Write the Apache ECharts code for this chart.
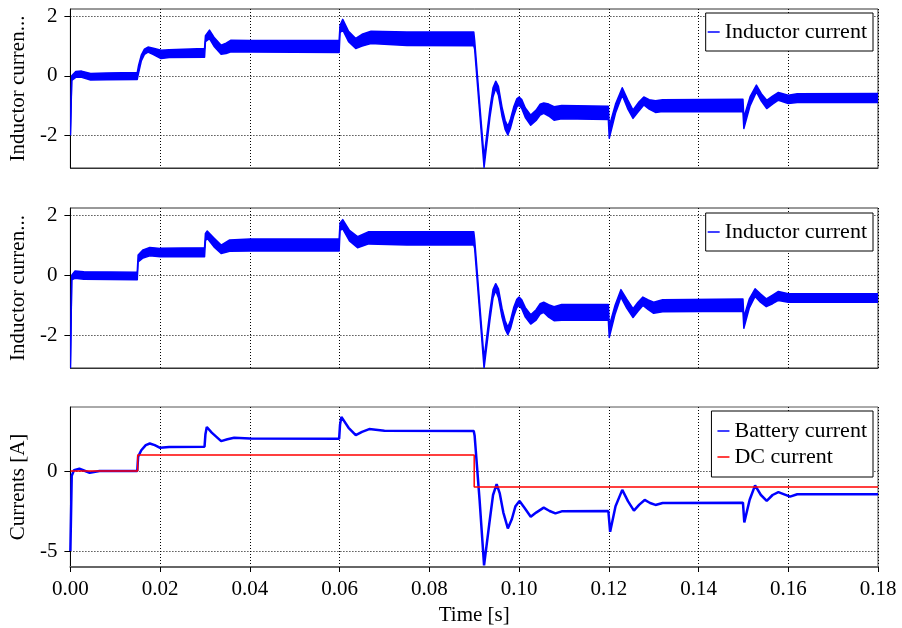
<!DOCTYPE html>
<html>
<head>
<meta charset="utf-8">
<script src="https://cdn.jsdelivr.net/npm/echarts@6/dist/echarts.min.js"></script>
<style>
html, body { margin: 0; padding: 0; background: #fff; }
#chart { width: 902px; height: 628px; }
</style>
</head>
<body>
<div id="chart"></div>
<script>
// panel 1: inductor current ripple band (lower / upper envelope)
var t1 = [0, 0.0003, 0.0012, 0.0025, 0.0045, 0.008, 0.0149, 0.0152, 0.0158, 0.0165, 0.0173, 0.0185, 0.0202, 0.022, 0.0299,
  0.0301, 0.031, 0.032, 0.0336, 0.0347, 0.0358, 0.04, 0.0599, 0.0601, 0.0607, 0.062, 0.0636, 0.065, 0.067, 0.075, 0.0899,
  0.0901, 0.0912, 0.0922, 0.0935, 0.0942, 0.0948, 0.0954, 0.0962, 0.0969, 0.0975, 0.0981, 0.0988, 0.0995, 0.1, 0.1006,
  0.1014, 0.1026, 0.1038, 0.1047, 0.1055, 0.1066, 0.1078, 0.1095, 0.1199, 0.1201, 0.1215, 0.123, 0.1242, 0.1254, 0.1266,
  0.1278, 0.129, 0.1304, 0.132, 0.1499, 0.1501, 0.1515, 0.1529, 0.154, 0.1552, 0.1565, 0.1578, 0.16, 0.162, 0.18];
var lo1 = [-2.0, -0.15, -0.05, -0.05, -0.14, -0.13, -0.12, 0.1, 0.5, 0.72, 0.8, 0.72, 0.58, 0.62, 0.63,
  1.15, 1.25, 1.0, 0.73, 0.75, 0.81, 0.8, 0.79, 1.45, 1.55, 1.15, 0.92, 1.0, 1.09, 1.02, 1.01,
  0.9, -1.2, -3.08, -1.4, -0.7, -0.42, -0.65, -1.35, -1.8, -1.99, -1.75, -1.35, -1.05, -0.98, -1.1,
  -1.4, -1.66, -1.5, -1.32, -1.26, -1.35, -1.49, -1.44, -1.47, -2.1, -1.25, -0.65, -1.1, -1.43, -1.2,
  -0.98, -1.12, -1.23, -1.2, -1.21, -1.77, -1.0, -0.54, -0.85, -1.1, -0.95, -0.82, -0.93, -0.9, -0.9];
var hi1 = [-2.0, 0.0, 0.15, 0.16, 0.08, 0.1, 0.11, 0.35, 0.7, 0.9, 0.97, 0.93, 0.86, 0.88, 0.92,
  1.35, 1.54, 1.3, 1.03, 1.1, 1.2, 1.19, 1.2, 1.7, 1.9, 1.5, 1.26, 1.4, 1.5, 1.48, 1.48,
  1.2, -0.9, -2.75, -1.1, -0.4, -0.18, -0.35, -1.05, -1.5, -1.7, -1.45, -1.05, -0.77, -0.71, -0.8,
  -1.08, -1.32, -1.15, -0.95, -0.91, -0.95, -1.04, -1.0, -1.02, -1.7, -0.95, -0.4, -0.8, -1.15, -0.9,
  -0.71, -0.8, -0.84, -0.8, -0.79, -1.4, -0.7, -0.31, -0.6, -0.82, -0.68, -0.56, -0.65, -0.6, -0.59];

// panel 2
var t2 = [0, 0.0003, 0.001, 0.003, 0.0149, 0.0151, 0.0162, 0.0177, 0.02, 0.0299,
  0.0301, 0.0305, 0.032, 0.0336, 0.0355, 0.04, 0.0599, 0.0601, 0.0607, 0.0622, 0.064, 0.0665, 0.075, 0.0899,
  0.0901, 0.0912, 0.0922, 0.0935, 0.0942, 0.0948, 0.0954, 0.0962, 0.0969, 0.0975, 0.0981, 0.0988, 0.0995, 0.1, 0.1006,
  0.1014, 0.1026, 0.1038, 0.1047, 0.1055, 0.1066, 0.1078, 0.1095, 0.1199, 0.1201, 0.1214, 0.1227, 0.124, 0.1254, 0.1265,
  0.1276, 0.1288, 0.13, 0.132, 0.1499, 0.1501, 0.1513, 0.1526, 0.1538, 0.1551, 0.1565, 0.1578, 0.16, 0.18];
var lo2 = [-3.1, -0.15, -0.1, -0.13, -0.15, 0.45, 0.58, 0.65, 0.62, 0.62,
  1.15, 1.24, 0.95, 0.73, 0.8, 0.81, 0.81, 1.5, 1.55, 1.15, 0.92, 1.05, 1.01, 1.01,
  0.9, -1.2, -3.1, -1.5, -0.75, -0.51, -0.75, -1.4, -1.8, -1.99, -1.78, -1.38, -1.08, -1.01, -1.12,
  -1.4, -1.63, -1.5, -1.3, -1.24, -1.4, -1.52, -1.5, -1.5, -2.08, -1.3, -0.73, -1.1, -1.41, -1.2,
  -1.01, -1.15, -1.27, -1.22, -1.2, -1.77, -1.1, -0.71, -0.9, -1.05, -0.95, -0.84, -0.9, -0.9];
var hi2 = [-3.1, 0.0, 0.14, 0.12, 0.1, 0.68, 0.85, 0.93, 0.9, 0.92,
  1.4, 1.48, 1.25, 1.01, 1.18, 1.21, 1.21, 1.75, 1.86, 1.5, 1.29, 1.46, 1.46, 1.46,
  1.2, -0.9, -2.8, -1.2, -0.48, -0.28, -0.45, -1.1, -1.52, -1.74, -1.5, -1.08, -0.8, -0.73, -0.82,
  -1.08, -1.32, -1.15, -0.95, -0.9, -0.98, -1.05, -0.98, -0.98, -1.7, -1.0, -0.48, -0.8, -1.12, -0.9,
  -0.73, -0.82, -0.9, -0.82, -0.79, -1.4, -0.8, -0.45, -0.62, -0.79, -0.66, -0.54, -0.62, -0.62];

// panel 3: battery and dc current
var tBat = [0, 0.0003, 0.0008, 0.002, 0.0043, 0.0065, 0.0149, 0.0151, 0.0158, 0.0168, 0.0177, 0.0188, 0.02, 0.022, 0.0299,
  0.0301, 0.0304, 0.0315, 0.0336, 0.035, 0.0365, 0.04, 0.0599, 0.0601, 0.0604, 0.062, 0.0636, 0.065, 0.0666, 0.07, 0.0899,
  0.0901, 0.0912, 0.0922, 0.0935, 0.0942, 0.095, 0.0957, 0.0965, 0.0975, 0.0984, 0.0992, 0.1001, 0.1012, 0.1026, 0.1038,
  0.1055, 0.1068, 0.1081, 0.1095, 0.1199, 0.1203, 0.1215, 0.123, 0.1243, 0.1256, 0.1268, 0.128, 0.1292, 0.1304, 0.132, 0.1499,
  0.1502, 0.1514, 0.1526, 0.1539, 0.1552, 0.1565, 0.1578, 0.1604, 0.162, 0.18];
var bat = [-5.0, -0.3, 0.05, 0.14, -0.11, 0.0, 0.0, 0.9, 1.3, 1.62, 1.72, 1.62, 1.45, 1.5, 1.52,
  2.3, 2.75, 2.4, 1.87, 1.98, 2.08, 2.03, 2.02, 2.9, 3.38, 2.7, 2.24, 2.45, 2.62, 2.52, 2.5,
  2.2, -1.8, -5.9, -3.0, -1.5, -0.82, -1.4, -2.6, -3.59, -3.0, -2.2, -1.87, -2.3, -2.86, -2.6,
  -2.29, -2.5, -2.65, -2.52, -2.5, -3.8, -2.2, -1.18, -1.9, -2.48, -2.1, -1.81, -2.0, -2.12, -2.0, -1.98,
  -3.21, -1.8, -0.9, -1.5, -1.87, -1.5, -1.32, -1.6, -1.45, -1.45];
var tDc = [0, 0.015, 0.015, 0.09, 0.09, 0.18];
var dc = [0, 0, 1, 1, -1, -1];

var yTicksInd = [-2, 0, 2];
var yTicksCur = [-5, 0];

function pairs(t, v) {
  return t.map(function (x, i) { return [x, v[i]]; });
}

var font = 'Liberation Serif';
var blue = '#0000ff';

function makeX(i, showLabel) {
  return {
    type: 'value', gridIndex: i, min: 0, max: 0.18, interval: 0.02,
    name: showLabel ? 'Time [s]' : '', nameLocation: 'middle', nameGap: 38,
    nameTextStyle: { fontFamily: font, fontSize: 21, color: '#000' },
    axisLine: { show: true, onZero: false, lineStyle: { color: showLabel ? '#666' : '#333', width: showLabel ? 2 : 1 } },
    axisTick: { show: showLabel, length: 5, lineStyle: { color: '#000' } },
    axisLabel: {
      show: showLabel, margin: 12, fontFamily: font, fontSize: 21, color: '#000',
      formatter: function (v) { return v.toFixed(2); }
    },
    splitLine: { show: true, lineStyle: { color: '#000', type: [1, 2], width: 1 } }
  };
}
function makeY(i, min, max, ticks, name) {
  return {
    type: 'value', gridIndex: i, min: min, max: max,
    name: name, nameLocation: 'middle', nameGap: 34,
    nameTextStyle: { fontFamily: font, fontSize: 21, color: '#000' },
    axisLine: { show: true, lineStyle: { color: '#000' } },
    axisTick: { show: true, length: 6, customValues: ticks, lineStyle: { color: '#000' } },
    axisLabel: { margin: 13, fontFamily: font, fontSize: 21, color: '#000', customValues: ticks },
    splitLine: { show: true, customValues: ticks, lineStyle: { color: '#000', type: [1, 2], width: 1 } }
  };
}
// ripple band: polygon between the lower and upper envelope, edges stroked
function bandSeries(i, t, lo, hi) {
  return {
    name: 'Inductor current', type: 'custom', xAxisIndex: i, yAxisIndex: i,
    clip: true, itemStyle: { color: blue },
    data: t.map(function (x, k) { return [x, lo[k], hi[k]]; }),
    renderItem: function (params, api) {
      if (params.dataIndex !== 0) return;
      var up = t.map(function (x, k) { return api.coord([x, hi[k]]); });
      var dn = t.map(function (x, k) { return api.coord([x, lo[k]]); });
      var poly = up.concat(dn.slice().reverse());
      var st = { fill: 'none', stroke: blue, lineWidth: 1.5, lineJoin: 'round' };
      return {
        type: 'group',
        children: [
          { type: 'polygon', shape: { points: poly }, style: { fill: blue, stroke: 'none' } },
          { type: 'polyline', shape: { points: up }, style: st },
          { type: 'polyline', shape: { points: dn }, style: st }
        ]
      };
    }
  };
}
function makeLegend(top, names, pad) {
  return {
    data: names, right: 29, top: top, orient: 'vertical',
    icon: 'rect', itemWidth: 12, itemHeight: 1.5, itemGap: 4,
    padding: pad, borderColor: '#000', borderWidth: 1, borderRadius: 0,
    backgroundColor: '#fff',
    textStyle: { fontFamily: font, fontSize: 22, color: '#000' },
    selectedMode: false
  };
}

var chart = echarts.init(document.getElementById('chart'));
var option = {
  animation: false,
  backgroundColor: '#fff',
  textStyle: { fontFamily: font },
  grid: [
    { left: 69, right: 24, top: 9, height: 159, show: true, borderColor: '#333', borderWidth: 1 },
    { left: 69, right: 24, top: 208, height: 160, show: true, borderColor: '#333', borderWidth: 1 },
    { left: 69, right: 24, top: 407, height: 160, show: true, borderColor: '#555', borderWidth: 1 }
  ],
  legend: [
    makeLegend(13, ['Inductor current'], [8, 6, 8, 2]),
    makeLegend(213, ['Inductor current'], [8, 6, 8, 2]),
    makeLegend(411, ['Battery current', 'DC current'], [9, 6, 9, 6])
  ],
  xAxis: [makeX(0, false), makeX(1, false), makeX(2, true)],
  yAxis: [
    makeY(0, -3.1, 2.25, yTicksInd, 'Inductor curren...'),
    makeY(1, -3.1, 2.25, yTicksInd, 'Inductor curren...'),
    makeY(2, -6, 4, yTicksCur, 'Currents [A]')
  ],
  series: [
    bandSeries(0, t1, lo1, hi1),
    bandSeries(1, t2, lo2, hi2),
    {
      name: 'Battery current', type: 'line', xAxisIndex: 2, yAxisIndex: 2,
      showSymbol: false, color: blue, lineStyle: { color: blue, width: 2.5 },
      data: pairs(tBat, bat)
    }, {
      name: 'DC current', type: 'line', xAxisIndex: 2, yAxisIndex: 2,
      showSymbol: false, color: '#ff0000', lineStyle: { color: '#ff0000', width: 1.5 },
      data: pairs(tDc, dc)
    }
  ]
};
chart.setOption(option);
</script>
</body>
</html>
